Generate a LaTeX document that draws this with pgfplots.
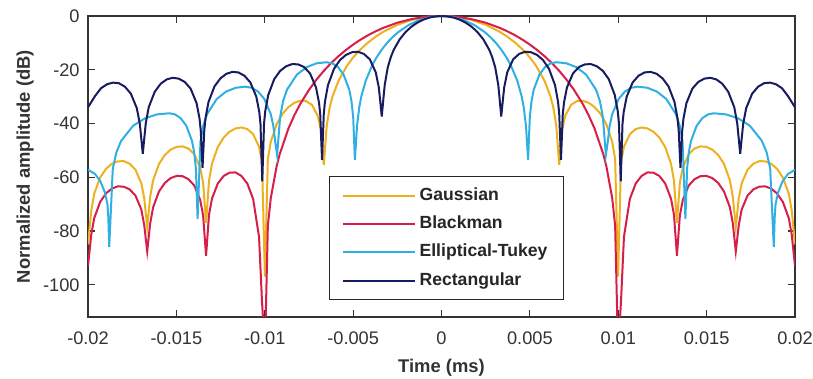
\documentclass[border=0pt]{standalone}
\usepackage{pgfplots}
\pgfplotsset{compat=1.18}
\usepackage{fontspec}
\setmainfont{Liberation Sans}
\definecolor{cgauss}{RGB}{237,177,32}
\definecolor{cblack}{RGB}{214,30,72}
\definecolor{cellip}{RGB}{48,176,226}
\definecolor{crect}{RGB}{24,28,94}
\begin{document}
\begin{tikzpicture}
\begin{axis}[
 scale only axis, width=353.5pt, height=150.5pt,
 xmin=-0.02, xmax=0.02, ymin=-112, ymax=0,
 scaled x ticks=false, scaled y ticks=false,
 xtick={-0.02,-0.015,-0.01,-0.005,0,0.005,0.01,0.015,0.02},
 xticklabels={-0.02,-0.015,-0.01,-0.005,0,0.005,0.01,0.015,0.02},
 ytick={-100,-80,-60,-40,-20,0},
 yticklabels={-100,-80,-60,-40,-20,0},
 tick align=inside, xtick pos=both, ytick pos=both,
 major tick length=3.5pt,
 axis line style={line width=0.6pt, black!80},
 tick style={line width=0.6pt, black!80},
 ticklabel style={font=\fontsize{9.1}{11}\selectfont, text=black!80},
 xticklabel style={inner sep=0pt, yshift=-7pt},
 yticklabel style={inner sep=0pt, xshift=-4pt},
 xlabel={Time (ms)}, ylabel={Normalized amplitude (dB)},
 label style={font=\bfseries\fontsize{9.2}{11}\selectfont, text=black!80},
 xlabel style={at={(axis description cs:0.5,0)}, anchor=north, inner sep=0pt, yshift=-21pt},
 ylabel style={at={(axis description cs:-0.089,0.5)}, anchor=center, inner sep=0pt},
 legend style={at={(axis cs:-0.00636,-59.7)}, anchor=north west, draw=black!85, line width=0.5pt,
   font=\bfseries\fontsize{8.8}{10.5}\selectfont, text=black!85,
   inner xsep=6pt, inner ysep=3pt, row sep=1.6pt,
   nodes={text height=6.6pt, text depth=2pt, inner sep=2pt}},
 legend cell align=left,
 legend image code/.code={\draw[#1, line width=1pt] (0pt,0pt) -- (36pt,0pt);},
 every axis plot/.append style={line width=1pt},
]
% Gaussian
\addplot[cgauss] coordinates {(0,0) (0.000833,-0.35) (0.001665,-1.42) (0.002498,-3.27) (0.00333,-6.02) (0.003746,-7.80) (0.004163,-9.89) (0.004579,-12.39) (0.004995,-15.40) (0.005328,-18.32) (0.005828,-24.1) (0.006161,-29.83) (0.006327,-34.05) (0.006494,-40.8) (0.00666,-55.4) (0.006827,-42.4) (0.006993,-37.24) (0.007326,-33.09) (0.007659,-31.67) (0.007992,-31.54) (0.008325,-32.3) (0.008658,-33.89) (0.008991,-36.38) (0.009324,-40.2) (0.009657,-46.8) (0.009824,-53.2) (0.00999,-97) (0.010157,-54.13) (0.010323,-48.67) (0.010656,-43.97) (0.010989,-42.06) (0.011322,-41.48) (0.011655,-41.85) (0.011988,-43.06) (0.012321,-45.22) (0.012654,-48.72) (0.012987,-55.0) (0.013154,-61.3) (0.01332,-77) (0.013487,-61.96) (0.013653,-56.38) (0.013986,-51.45) (0.014319,-49.31) (0.014652,-48.52) (0.014985,-48.7) (0.015318,-49.72) (0.015651,-51.71) (0.015984,-55.05) (0.016317,-61.19) (0.016484,-67.4) (0.01665,-78.5) (0.016817,-67.9) (0.016983,-62.26) (0.017316,-57.19) (0.017649,-54.93) (0.017982,-54.02) (0.018315,-54.07) (0.018648,-54.99) (0.018981,-56.86) (0.019314,-60.1) (0.019647,-66.1) (0.019814,-72.3) (0.02,-85)};
\addlegendentry{Gaussian}
\addplot[cgauss, forget plot] coordinates {(0,0) (-0.000833,-0.35) (-0.001665,-1.42) (-0.002498,-3.27) (-0.00333,-6.02) (-0.003746,-7.80) (-0.004163,-9.89) (-0.004579,-12.39) (-0.004995,-15.40) (-0.005328,-18.32) (-0.005828,-24.1) (-0.006161,-29.83) (-0.006327,-34.05) (-0.006494,-40.8) (-0.00666,-55.4) (-0.006827,-42.4) (-0.006993,-37.24) (-0.007326,-33.09) (-0.007659,-31.67) (-0.007992,-31.54) (-0.008325,-32.3) (-0.008658,-33.89) (-0.008991,-36.38) (-0.009324,-40.2) (-0.009657,-46.8) (-0.009824,-53.2) (-0.00999,-97) (-0.010157,-54.13) (-0.010323,-48.67) (-0.010656,-43.97) (-0.010989,-42.06) (-0.011322,-41.48) (-0.011655,-41.85) (-0.011988,-43.06) (-0.012321,-45.22) (-0.012654,-48.72) (-0.012987,-55.0) (-0.013154,-61.3) (-0.01332,-77) (-0.013487,-61.96) (-0.013653,-56.38) (-0.013986,-51.45) (-0.014319,-49.31) (-0.014652,-48.52) (-0.014985,-48.7) (-0.015318,-49.72) (-0.015651,-51.71) (-0.015984,-55.05) (-0.016317,-61.19) (-0.016484,-67.4) (-0.01665,-78.5) (-0.016817,-67.9) (-0.016983,-62.26) (-0.017316,-57.19) (-0.017649,-54.93) (-0.017982,-54.02) (-0.018315,-54.07) (-0.018648,-54.99) (-0.018981,-56.86) (-0.019314,-60.1) (-0.019647,-66.1) (-0.019814,-72.3) (-0.02,-85)};
% Blackman
\addplot[cblack] coordinates {(0,0) (0.000833,-0.27) (0.001665,-1.10) (0.002498,-2.50) (0.00333,-4.51) (0.003746,-5.76) (0.004163,-7.18) (0.004579,-8.80) (0.004995,-10.62) (0.005411,-12.66) (0.005828,-14.95) (0.006244,-17.53) (0.00666,-20.42) (0.007076,-23.70) (0.007493,-27.45) (0.007992,-32.74) (0.008325,-36.93) (0.008658,-41.85) (0.009158,-51.5) (0.009324,-55.77) (0.009657,-67.7) (0.009824,-78.0) (0.00999,-125) (0.010157,-106) (0.010323,-82.2) (0.010656,-68.1) (0.010989,-62.3) (0.011322,-59.5) (0.011655,-58.2) (0.011988,-58.3) (0.012321,-59.5) (0.012654,-62.3) (0.012987,-68.0) (0.013154,-74.0) (0.01332,-89.2) (0.013487,-74.2) (0.013653,-68.4) (0.013986,-63.1) (0.014319,-60.7) (0.014652,-59.6) (0.014985,-59.5) (0.015318,-60.3) (0.015651,-62.1) (0.015984,-65.3) (0.016317,-71.2) (0.016484,-77.3) (0.01665,-87.6) (0.016817,-77.9) (0.016983,-72.0) (0.017316,-66.8) (0.017649,-64.5) (0.017982,-63.5) (0.018315,-63.4) (0.018648,-64.2) (0.018981,-66.0) (0.019314,-69.2) (0.019647,-75.2) (0.019814,-81.3) (0.02,-93)};
\addlegendentry{Blackman}
\addplot[cblack, forget plot] coordinates {(0,0) (-0.000833,-0.27) (-0.001665,-1.10) (-0.002498,-2.50) (-0.00333,-4.51) (-0.003746,-5.76) (-0.004163,-7.18) (-0.004579,-8.80) (-0.004995,-10.62) (-0.005411,-12.66) (-0.005828,-14.95) (-0.006244,-17.53) (-0.00666,-20.42) (-0.007076,-23.70) (-0.007493,-27.45) (-0.007992,-32.74) (-0.008325,-36.93) (-0.008658,-41.85) (-0.009158,-51.5) (-0.009324,-55.77) (-0.009657,-67.7) (-0.009824,-78.0) (-0.00999,-125) (-0.010157,-106) (-0.010323,-82.2) (-0.010656,-68.1) (-0.010989,-62.3) (-0.011322,-59.5) (-0.011655,-58.2) (-0.011988,-58.3) (-0.012321,-59.5) (-0.012654,-62.3) (-0.012987,-68.0) (-0.013154,-74.0) (-0.01332,-89.2) (-0.013487,-74.2) (-0.013653,-68.4) (-0.013986,-63.1) (-0.014319,-60.7) (-0.014652,-59.6) (-0.014985,-59.5) (-0.015318,-60.3) (-0.015651,-62.1) (-0.015984,-65.3) (-0.016317,-71.2) (-0.016484,-77.3) (-0.01665,-87.6) (-0.016817,-77.9) (-0.016983,-72.0) (-0.017316,-66.8) (-0.017649,-64.5) (-0.017982,-63.5) (-0.018315,-63.4) (-0.018648,-64.2) (-0.018981,-66.0) (-0.019314,-69.2) (-0.019647,-75.2) (-0.019814,-81.3) (-0.02,-93)};
% Elliptical-Tukey
\addplot[cellip] coordinates {(0,0) (0.000613,-0.35) (0.001225,-1.42) (0.001838,-3.27) (0.00245,-6.02) (0.002756,-7.80) (0.003063,-9.89) (0.003369,-12.39) (0.003675,-15.40) (0.00392,-18.32) (0.004288,-24.1) (0.004533,-29.83) (0.004655,-34.05) (0.004778,-40.8) (0.0049,-53.5) (0.004996,-37.7) (0.005092,-31.7) (0.00522,-27.4) (0.00554,-21.8) (0.00586,-19.0) (0.00618,-17.6) (0.0065,-17.2) (0.00706,-17.6) (0.00762,-19.0) (0.00818,-21.8) (0.00874,-27.4) (0.008964,-31.7) (0.009132,-37.7) (0.0093,-51.7) (0.009408,-46.8) (0.009516,-40.8) (0.00966,-36.5) (0.01002,-30.9) (0.01038,-28.1) (0.01074,-26.7) (0.0111,-26.3) (0.01164,-26.7) (0.01218,-28.1) (0.01272,-30.9) (0.01326,-36.5) (0.013476,-40.8) (0.013638,-46.8) (0.0138,-75.5) (0.013896,-56.7) (0.013992,-50.7) (0.01412,-46.4) (0.01444,-40.8) (0.01476,-38.0) (0.01508,-36.6) (0.0154,-36.2) (0.01608,-36.6) (0.01676,-38.0) (0.01744,-40.8) (0.01812,-46.4) (0.018392,-50.7) (0.018596,-56.7) (0.0188,-86) (0.01885,-75) (0.0189,-70) (0.01905,-65.5) (0.0193,-61.5) (0.0196,-58.8) (0.02,-57.2)};
\addlegendentry{Elliptical-Tukey}
\addplot[cellip, forget plot] coordinates {(0,0) (-0.000613,-0.35) (-0.001225,-1.42) (-0.001838,-3.27) (-0.00245,-6.02) (-0.002756,-7.80) (-0.003063,-9.89) (-0.003369,-12.39) (-0.003675,-15.40) (-0.00392,-18.32) (-0.004288,-24.1) (-0.004533,-29.83) (-0.004655,-34.05) (-0.004778,-40.8) (-0.0049,-53.5) (-0.004996,-37.7) (-0.005092,-31.7) (-0.00522,-27.4) (-0.00554,-21.8) (-0.00586,-19.0) (-0.00618,-17.6) (-0.0065,-17.2) (-0.00706,-17.6) (-0.00762,-19.0) (-0.00818,-21.8) (-0.00874,-27.4) (-0.008964,-31.7) (-0.009132,-37.7) (-0.0093,-51.7) (-0.009408,-46.8) (-0.009516,-40.8) (-0.00966,-36.5) (-0.01002,-30.9) (-0.01038,-28.1) (-0.01074,-26.7) (-0.0111,-26.3) (-0.01164,-26.7) (-0.01218,-28.1) (-0.01272,-30.9) (-0.01326,-36.5) (-0.013476,-40.8) (-0.013638,-46.8) (-0.0138,-75.5) (-0.013896,-56.7) (-0.013992,-50.7) (-0.01412,-46.4) (-0.01444,-40.8) (-0.01476,-38.0) (-0.01508,-36.6) (-0.0154,-36.2) (-0.01608,-36.6) (-0.01676,-38.0) (-0.01744,-40.8) (-0.01812,-46.4) (-0.018392,-50.7) (-0.018596,-56.7) (-0.0188,-86) (-0.01885,-75) (-0.0189,-70) (-0.01905,-65.5) (-0.0193,-61.5) (-0.0196,-58.8) (-0.02,-57.2)};
% Rectangular
\addplot[crect] coordinates {(0,0) (0.000338,-0.14) (0.000676,-0.58) (0.001014,-1.33) (0.001352,-2.42) (0.00169,-3.92) (0.002028,-5.94) (0.002366,-8.69) (0.002704,-12.6) (0.002873,-15.4) (0.003042,-19.2) (0.003211,-25.6) (0.003279,-30.2) (0.00338,-37.4) (0.003481,-30.7) (0.003549,-26.5) (0.003718,-21.0) (0.004056,-16.1) (0.004394,-14.1) (0.004732,-13.3) (0.00507,-13.5) (0.005408,-14.5) (0.005746,-16.4) (0.006084,-19.7) (0.006422,-25.7) (0.006591,-31.8) (0.006659,-36.3) (0.00676,-53.5) (0.006861,-36.6) (0.006929,-32.3) (0.007098,-26.6) (0.007436,-21.4) (0.007774,-19.0) (0.008112,-18.0) (0.00845,-17.9) (0.008788,-18.7) (0.009126,-20.4) (0.009464,-23.5) (0.009802,-29.4) (0.009971,-35.4) (0.010039,-39.9) (0.01014,-61.5) (0.010241,-40.1) (0.010309,-35.7) (0.010478,-30.0) (0.010816,-24.7) (0.011154,-22.2) (0.011492,-21.0) (0.01183,-20.8) (0.012168,-21.5) (0.012506,-23.2) (0.012844,-26.2) (0.013182,-32.0) (0.013351,-38.0) (0.013419,-42.4) (0.01352,-56.5) (0.013621,-42.6) (0.013689,-38.2) (0.013858,-32.4) (0.014196,-27.0) (0.014534,-24.5) (0.014872,-23.3) (0.01521,-23.0) (0.015548,-23.6) (0.015886,-25.2) (0.016224,-28.2) (0.016562,-33.9) (0.016731,-39.9) (0.016799,-44.4) (0.0169,-51.3) (0.017001,-44.5) (0.017069,-40.1) (0.017238,-34.3) (0.017576,-28.9) (0.017914,-26.3) (0.018252,-25.0) (0.01859,-24.8) (0.018928,-25.4) (0.019266,-26.9) (0.019604,-29.8) (0.02,-34.0)};
\addlegendentry{Rectangular}
\addplot[crect, forget plot] coordinates {(0,0) (-0.000338,-0.14) (-0.000676,-0.58) (-0.001014,-1.33) (-0.001352,-2.42) (-0.00169,-3.92) (-0.002028,-5.94) (-0.002366,-8.69) (-0.002704,-12.6) (-0.002873,-15.4) (-0.003042,-19.2) (-0.003211,-25.6) (-0.003279,-30.2) (-0.00338,-37.4) (-0.003481,-30.7) (-0.003549,-26.5) (-0.003718,-21.0) (-0.004056,-16.1) (-0.004394,-14.1) (-0.004732,-13.3) (-0.00507,-13.5) (-0.005408,-14.5) (-0.005746,-16.4) (-0.006084,-19.7) (-0.006422,-25.7) (-0.006591,-31.8) (-0.006659,-36.3) (-0.00676,-53.5) (-0.006861,-36.6) (-0.006929,-32.3) (-0.007098,-26.6) (-0.007436,-21.4) (-0.007774,-19.0) (-0.008112,-18.0) (-0.00845,-17.9) (-0.008788,-18.7) (-0.009126,-20.4) (-0.009464,-23.5) (-0.009802,-29.4) (-0.009971,-35.4) (-0.010039,-39.9) (-0.01014,-61.5) (-0.010241,-40.1) (-0.010309,-35.7) (-0.010478,-30.0) (-0.010816,-24.7) (-0.011154,-22.2) (-0.011492,-21.0) (-0.01183,-20.8) (-0.012168,-21.5) (-0.012506,-23.2) (-0.012844,-26.2) (-0.013182,-32.0) (-0.013351,-38.0) (-0.013419,-42.4) (-0.01352,-56.5) (-0.013621,-42.6) (-0.013689,-38.2) (-0.013858,-32.4) (-0.014196,-27.0) (-0.014534,-24.5) (-0.014872,-23.3) (-0.01521,-23.0) (-0.015548,-23.6) (-0.015886,-25.2) (-0.016224,-28.2) (-0.016562,-33.9) (-0.016731,-39.9) (-0.016799,-44.4) (-0.0169,-51.3) (-0.017001,-44.5) (-0.017069,-40.1) (-0.017238,-34.3) (-0.017576,-28.9) (-0.017914,-26.3) (-0.018252,-25.0) (-0.01859,-24.8) (-0.018928,-25.4) (-0.019266,-26.9) (-0.019604,-29.8) (-0.02,-34.0)};
\end{axis}
\path ([shift={(-44pt,-31pt)}]current axis.south west) rectangle ([shift={(9pt,8pt)}]current axis.north east);
\end{tikzpicture}
\end{document}
